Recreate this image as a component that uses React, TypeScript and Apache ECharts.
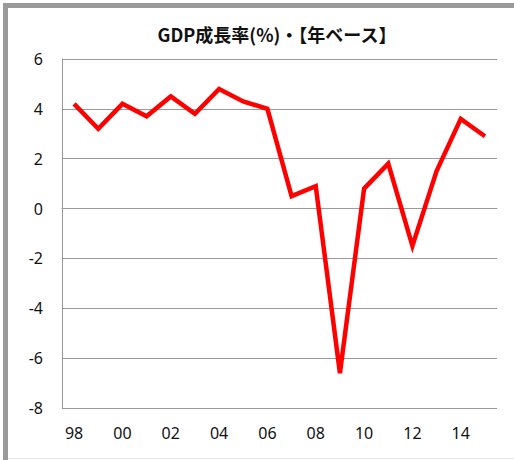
import React, { useEffect, useRef } from "react";
import * as echarts from "echarts";

const years = ["98","99","00","01","02","03","04","05","06","07","08","09","10","11","12","13","14","15"];
const gdpGrowth = [4.2, 3.2, 4.2, 3.7, 4.5, 3.8, 4.8, 4.3, 4.0, 0.5, 0.9, -6.6, 0.8, 1.8, -1.5, 1.5, 3.6, 2.9];
const titleText = "GDP成長率(%)・【年ベース】";

export default function App() {
  const ref = useRef<HTMLDivElement>(null);
  useEffect(() => {
    if (!ref.current) return;
    const chart = echarts.init(ref.current, null, { renderer: "svg" });
    const font = "'Noto Sans', 'Noto Sans CJK JP', sans-serif";
    chart.setOption({
      animation: false,
      backgroundColor: "#ffffff",
      title: {
        text: titleText,
        left: 272,
        top: 20,
        textAlign: "center",
        textStyle: { fontSize: 18, fontWeight: "bold", color: "#111", fontFamily: "'Noto Sans CJK JP', sans-serif" },
      },
      graphic: [
        { type: "rect", shape: { x: 3, y: 3, width: 520, height: 5 }, style: { fill: "#9a9a9a" } },
        { type: "rect", shape: { x: 3, y: 3, width: 5, height: 460 }, style: { fill: "#9a9a9a" } },
        { type: "line", shape: { x1: 8, y1: 458.5, x2: 514, y2: 458.5 }, style: { stroke: "#e4e4e4", lineWidth: 1 } },
      ],
      grid: { left: 62, right: 17, top: 59, bottom: 52, containLabel: false },
      xAxis: {
        type: "category",
        data: years,
        boundaryGap: true,
        axisLine: { show: true, lineStyle: { color: "#9a9a9a", width: 1 } },
        axisTick: { show: false },
        axisLabel: {
          interval: 1,
          color: "#111",
          fontSize: 16,
          fontFamily: font,
          margin: 17,
        },
        splitLine: { show: false },
      },
      yAxis: {
        type: "value",
        min: -8,
        max: 6,
        interval: 2,
        axisLine: { show: true, lineStyle: { color: "#9a9a9a", width: 1 } },
        axisTick: { show: false },
        axisLabel: { color: "#111", fontSize: 16, fontFamily: font, margin: 19 },
        splitLine: { show: true, lineStyle: { color: "#9a9a9a", width: 1 } },
      },
      series: [
        {
          type: "line",
          data: gdpGrowth,
          symbol: "none",
          lineStyle: { color: "#ff0000", width: 4.5, join: "miter" },
          itemStyle: { color: "#ff0000" },
        },
      ],
    });
    return () => chart.dispose();
  }, []);
  return (
    <div
      ref={ref}
      style={{ position: "fixed", left: 0, top: 0, width: 514, height: 460 }}
    />
  );
}
